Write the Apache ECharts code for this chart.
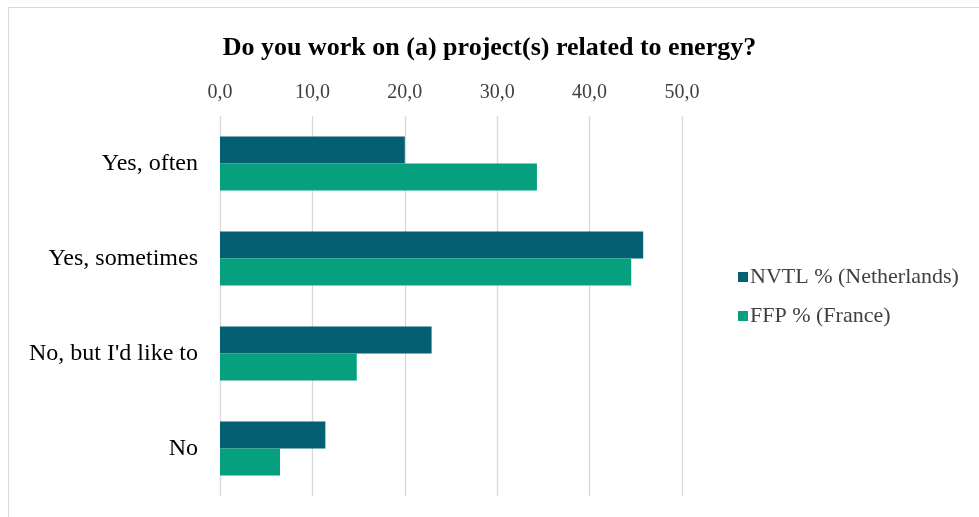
<!DOCTYPE html>
<html><head><meta charset="utf-8">
<script src="https://cdn.jsdelivr.net/npm/echarts@6/dist/echarts.min.js"></script>
<style>
html,body{margin:0;padding:0;background:#fff;}
#frame{position:absolute;left:8px;top:7px;width:980px;height:520px;border:1px solid #d9d9d9;box-sizing:border-box;}
#c{position:absolute;left:0;top:0;width:979px;height:517px;}
</style></head>
<body><div id="frame"></div><div id="c"></div>
<script>
const titleText = "Do you work on (a) project(s) related to energy?";
const categories = ["Yes, often", "Yes, sometimes", "No, but I'd like to", "No"];
const seriesNames = ["NVTL % (Netherlands)", "FFP % (France)"];
const nvtl = [20.0, 45.8, 22.9, 11.4];
const ffp = [34.3, 44.5, 14.8, 6.5];
const colors = ["#035F71", "#07A07F"];
const serif = "'Liberation Serif', 'DejaVu Serif', serif";

const chart = echarts.init(document.getElementById('c'));
chart.setOption({
  animation: false,
  title: {text: titleText, left: 'center', top: 30,
    textStyle: {fontFamily: serif, fontSize: 26, fontWeight: 'bold', color: '#000'}},
  legend: {orient: 'vertical', left: 733, top: 261, itemGap: 17, itemWidth: 10, itemHeight: 10,
    icon: 'rect', textStyle: {fontFamily: serif, fontSize: 22, color: '#404040', padding: [0,0,0,-3]},
    data: seriesNames},
  grid: {left: 220, right: 297, top: 116, bottom: 21, containLabel: false},
  xAxis: {type: 'value', position: 'top', min: 0, max: 50, interval: 10,
    axisLine: {show: false}, axisTick: {show: false},
    splitLine: {lineStyle: {color: '#d9d9d9', width: 1.3}},
    axisLabel: {fontFamily: serif, fontSize: 20, color: '#404040', margin: 13,
      formatter: v => v.toFixed(1).replace('.', ',')}},
  yAxis: {type: 'category', inverse: true, data: categories,
    axisLine: {show: false}, axisTick: {show: false},
    axisLabel: {fontFamily: serif, fontSize: 24, color: '#000', margin: 22}},
  series: [
    {name: seriesNames[0], type: 'bar', data: nvtl, barGap: '0%', barCategoryGap: '43%',
      itemStyle: {color: colors[0]}},
    {name: seriesNames[1], type: 'bar', data: ffp, barGap: '0%', barCategoryGap: '43%',
      itemStyle: {color: colors[1]}}
  ]
});
</script></body></html>
